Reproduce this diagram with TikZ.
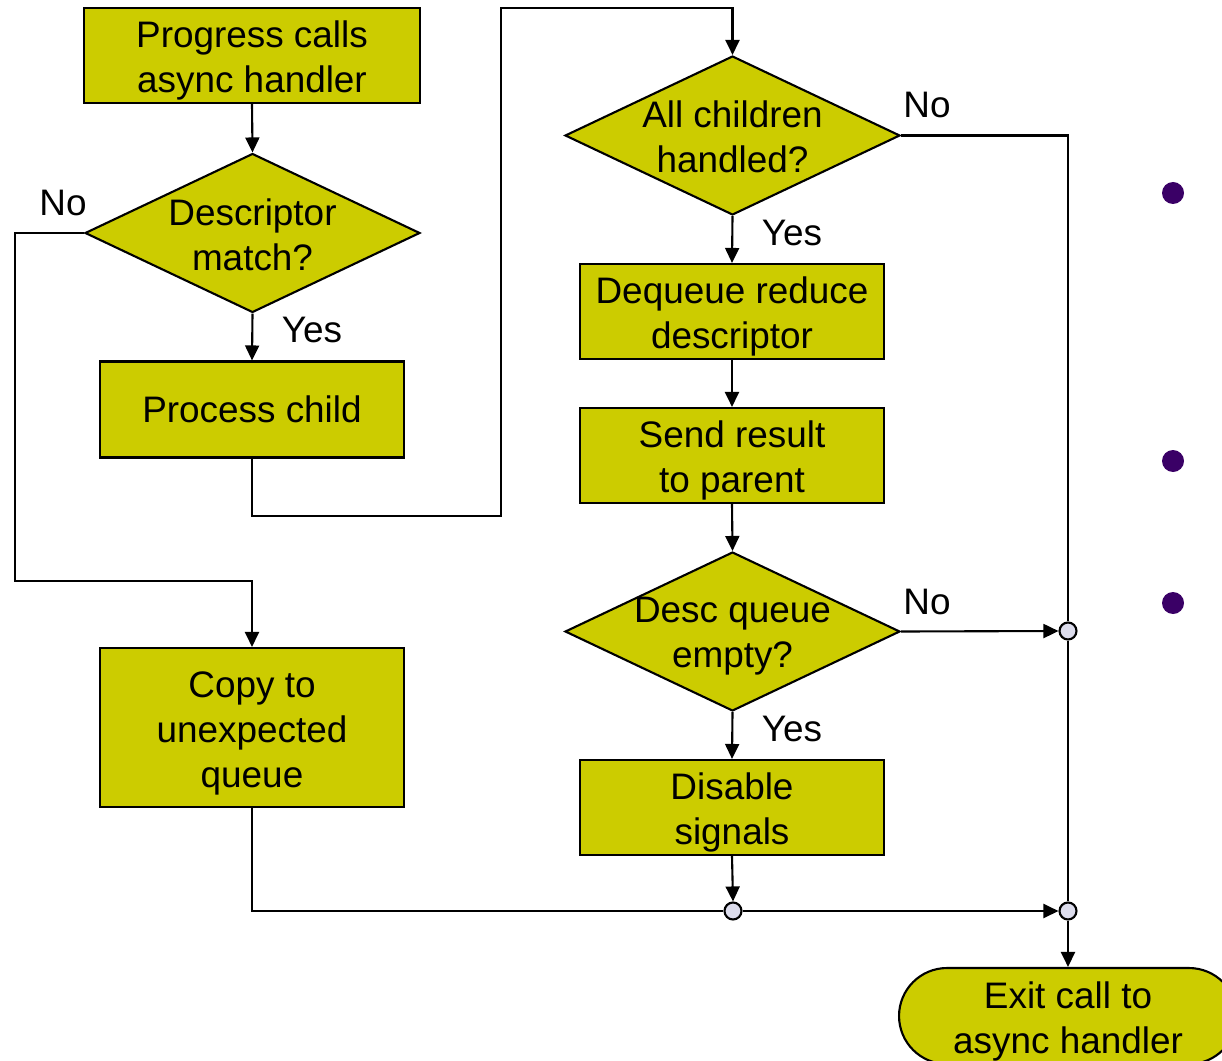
\documentclass[tikz,border=0pt]{standalone}
\usepackage{fontspec}
\setmainfont{Liberation Sans}
\usetikzlibrary{shapes.geometric,arrows.meta}
\definecolor{boxfill}{RGB}{204,204,0}
\definecolor{joinfill}{RGB}{220,220,236}
\definecolor{bulletpurple}{RGB}{58,0,102}
% taller first line so that multi-line text sits a little lower in its box
\newcommand{\firstline}{\rule{0pt}{0.74cm}}
\begin{document}
\begin{tikzpicture}[x=0.02cm,y=-0.02cm,
  every node/.style={font=\fontsize{21}{25.6}\selectfont, align=center},
  flowline/.style={line width=1.2pt, line join=miter},
  arr/.style={flowline, -{Triangle[length=0.3cm,width=0.28cm]}},
  procbox/.style={draw, line width=1.2pt, fill=boxfill, rectangle, inner sep=0pt,
    minimum width=6.08cm, minimum height=1.92cm},
  decision/.style={draw, line width=1.2pt, fill=boxfill, diamond, inner sep=0pt,
    minimum width=6.7cm, minimum height=3.18cm},
  terminal/.style={draw, line width=1.2pt, fill=boxfill, rectangle, inner sep=0pt,
    rounded corners=0.96cm, minimum width=6.76cm, minimum height=1.92cm},
  junction/.style={draw, line width=1.2pt, fill=joinfill, circle, inner sep=0pt,
    minimum size=0.34cm},
  bulletdot/.style={fill=bulletpurple, circle, inner sep=0pt, minimum size=0.44cm},
]
\useasboundingbox (0,0) rectangle (1222,1060);
\clip (0,0) rectangle (1222,1060);

% process boxes
\node[procbox, minimum width=6.72cm, minimum height=1.9cm] (start) at (252,55.5)
  {\firstline Progress calls\\async handler};
\node[procbox] (pc) at (252,409.5) {Process child};
\node[procbox, minimum height=3.18cm] (cq) at (252,727.5) {\firstline Copy to\\unexpected\\queue};
\node[procbox, minimum height=1.9cm] (dq) at (732,311.5) {\firstline Dequeue reduce\\descriptor};
\node[procbox, minimum height=1.9cm] (sr) at (732,455.5) {\firstline Send result\\to parent};
\node[procbox, minimum height=1.9cm] (ds) at (732,807.5) {\firstline Disable\\signals};

% decisions
\node[decision] (d1) at (252.5,233) {};
\node (d1t) at (252.5,235) {Descriptor\\match?};
\node[decision] (d2) at (732.5,135.5) {};
\node (d2t) at (732.5,137) {All children\\handled?};
\node[decision] (d3) at (732.5,631.5) {};
\node (d3t) at (732.5,636) {Desc queue\\empty?};

% junctions and end
\node[junction] (j1) at (1068,631) {};
\node[junction] (j2) at (733,911) {};
\node[junction] (j3) at (1068,911) {};
\node[terminal] (exit) at (1068,1016) {\firstline Exit call to\\async handler};

% branch labels
\node (no1) at (63,203) {No};
\node (yes1) at (312,330) {Yes};
\node (no2) at (927,105) {No};
\node (yes2) at (792,233) {Yes};
\node (no3) at (927,602) {No};
\node (yes3) at (792,729) {Yes};

% routing points
\coordinate (loopA) at (501,516);
\coordinate (loopB) at (501,8);
\coordinate (noA) at (15,581);

% connectors
\draw[arr] (start.south) -- (d1.north);
\draw[arr] (d1.south) -- (pc.north);
\draw[arr] (pc.south) |- (loopA) -- (loopB) -| (d2.north);
\draw[arr] (d1.west) -| (noA) -| (cq.north);
\draw[arr] (d2.south) -- (dq.north);
\draw[arr] (dq.south) -- (sr.north);
\draw[arr] (sr.south) -- (d3.north);
\draw[arr] (d3.south) -- (ds.north);
\draw[arr] (ds.south) -- (j2.north);
\draw[arr] (d3.east) -- (j1.west);
\draw[flowline] (d2.east) -| (j1.north);
\draw[flowline] (j1.south) -- (j3.north);
\draw[flowline] (cq.south) |- (j2.west);
\draw[arr] (j2.east) -- (j3.west);
\draw[arr] (j3.south) -- (exit.north);

% bullet marks
\node[bulletdot] (bul1) at (1173,193) {};
\node[bulletdot] (bul2) at (1173,461) {};
\node[bulletdot] (bul3) at (1173,603) {};
\end{tikzpicture}
\end{document}
